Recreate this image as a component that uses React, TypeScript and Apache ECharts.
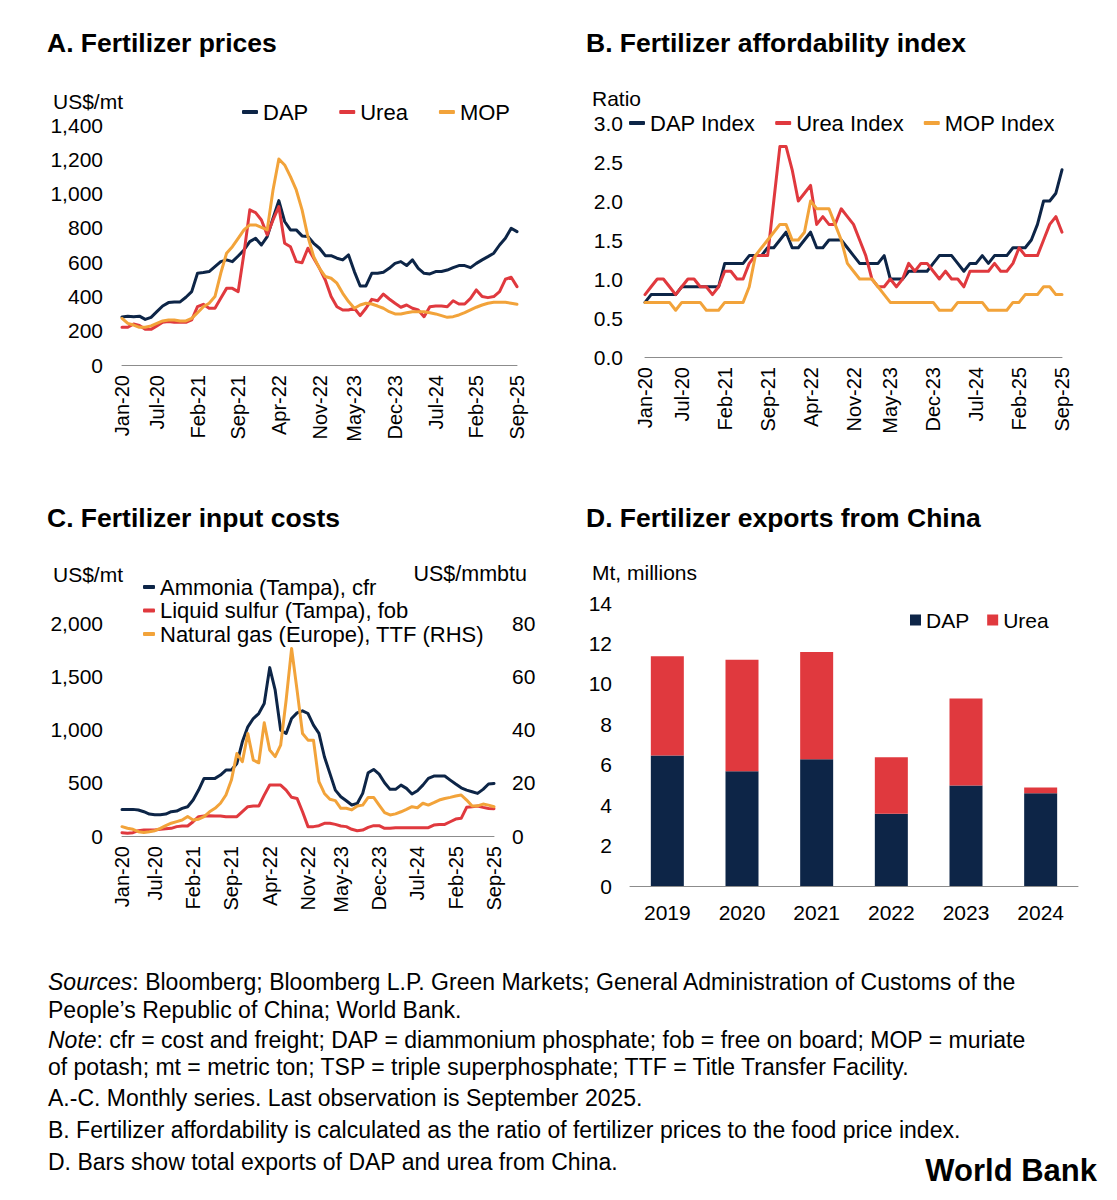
import React, { useEffect, useRef } from 'react';
import * as echarts from 'echarts';

const FONT = '"Liberation Sans", Arial, Helvetica, sans-serif';
const NAVY = '#0d2547';
const RED = '#e0393e';
const ORANGE = '#f2a33a';
const AXIS_GRAY = '#8c8c8c';

const monthNames = ['Jan', 'Feb', 'Mar', 'Apr', 'May', 'Jun', 'Jul', 'Aug', 'Sep', 'Oct', 'Nov', 'Dec'];
const months: string[] = [];
for (let y = 20; y <= 25; y++) {
  for (let m = 0; m < 12; m++) {
    if (y === 25 && m > 8) break;
    months.push(`${monthNames[m]}-${y}`);
  }
}
const labelIdx = [0, 6, 13, 20, 27, 34, 40, 47, 54, 61, 68];

// Panel A: Fertilizer prices (US$/mt)
const dapPrice = [
  280, 285, 282, 285, 266, 278, 311, 344, 364, 368,
  368, 395, 428, 535, 539, 545, 574, 603, 613, 603,
  636, 671, 720, 739, 700, 749, 856, 959, 837, 788,
  788, 753, 749, 710, 681, 638, 638, 623, 613, 642,
  545, 461, 461, 535, 535, 541, 564, 593, 603, 580,
  613, 564, 535, 531, 545, 545, 554, 568, 580, 580,
  568, 593, 613, 632, 652, 700, 739, 798, 778,
];
const ureaPrice = [
  220, 220, 239, 231, 208, 208, 228, 249, 253, 249,
  249, 249, 263, 340, 354, 331, 331, 389, 447, 447,
  428, 652, 905, 889, 846, 759, 846, 924, 710, 690,
  603, 597, 681, 623, 564, 496, 399, 340, 321, 321,
  331, 288, 331, 383, 375, 414, 385, 360, 337, 350,
  331, 321, 282, 340, 344, 344, 340, 375, 356, 356,
  389, 438, 399, 393, 399, 428, 500, 512, 457,
];
const mopPrice = [
  272, 243, 233, 220, 220, 228, 243, 257, 263, 263,
  257, 257, 272, 305, 340, 360, 399, 535, 652, 690,
  739, 788, 817, 817, 803, 788, 1021, 1202, 1167, 1099,
  1021, 905, 749, 632, 564, 516, 506, 477, 418, 370,
  331, 350, 360, 356, 344, 331, 311, 298, 298, 305,
  311, 311, 311, 305, 298, 288, 278, 282, 292, 305,
  321, 337, 350, 360, 366, 366, 366, 360, 354,
];

// Panel B: Fertilizer affordability index (ratio)
const dapIndex = [
  0.7, 0.8, 0.8, 0.8, 0.8, 0.8, 0.9, 0.9, 0.9, 0.9,
  0.9, 0.9, 0.9, 1.2, 1.2, 1.2, 1.2, 1.3, 1.3, 1.3,
  1.4, 1.4, 1.5, 1.6, 1.4, 1.4, 1.5, 1.6, 1.4, 1.4,
  1.5, 1.5, 1.5, 1.4, 1.3, 1.2, 1.2, 1.2, 1.2, 1.3,
  1.0, 1.0, 1.0, 1.1, 1.1, 1.1, 1.1, 1.2, 1.3, 1.3,
  1.3, 1.2, 1.1, 1.2, 1.2, 1.3, 1.2, 1.3, 1.3, 1.3,
  1.4, 1.4, 1.4, 1.5, 1.7, 2.0, 2.0, 2.1, 2.4,
];
const ureaIndex = [
  0.8, 0.9, 1.0, 1.0, 0.9, 0.8, 0.9, 1.0, 1.0, 0.9,
  0.9, 0.8, 0.9, 1.1, 1.1, 1.0, 1.0, 1.2, 1.3, 1.3,
  1.3, 2.0, 2.7, 2.7, 2.4, 2.0, 2.1, 2.2, 1.7, 1.8,
  1.7, 1.7, 1.9, 1.8, 1.7, 1.5, 1.3, 1.0, 0.9, 0.9,
  1.0, 0.9, 1.0, 1.2, 1.1, 1.2, 1.2, 1.1, 1.0, 1.1,
  1.0, 1.0, 0.9, 1.1, 1.1, 1.1, 1.1, 1.2, 1.1, 1.1,
  1.2, 1.4, 1.3, 1.3, 1.3, 1.5, 1.7, 1.8, 1.6,
];
const mopIndex = [
  0.7, 0.7, 0.7, 0.7, 0.7, 0.6, 0.7, 0.7, 0.7, 0.7,
  0.6, 0.6, 0.6, 0.7, 0.7, 0.7, 0.7, 0.9, 1.3, 1.4,
  1.5, 1.6, 1.7, 1.7, 1.5, 1.5, 1.6, 2.0, 1.9, 1.9,
  1.9, 1.7, 1.5, 1.2, 1.1, 1.0, 1.0, 1.0, 0.9, 0.8,
  0.7, 0.7, 0.7, 0.7, 0.7, 0.7, 0.7, 0.7, 0.6, 0.6,
  0.6, 0.7, 0.7, 0.7, 0.7, 0.7, 0.6, 0.6, 0.6, 0.6,
  0.7, 0.7, 0.8, 0.8, 0.8, 0.9, 0.9, 0.8, 0.8,
];

// Panel C: Fertilizer input costs
const ammonia = [
  250, 250, 250, 244, 228, 206, 200, 200, 206, 228,
  234, 259, 275, 338, 431, 541, 541, 541, 572, 619,
  619, 681, 884, 1025, 1103, 1150, 1244, 1581, 1369, 994,
  963, 1103, 1156, 1175, 1150, 1041, 963, 744, 588, 431,
  369, 331, 291, 306, 400, 594, 625, 581, 500, 438,
  438, 478, 447, 394, 425, 478, 541, 563, 563, 563,
  525, 488, 453, 431, 416, 400, 438, 488, 494,
];
const sulfur = [
  31, 25, 31, 50, 56, 56, 56, 63, 69, 72,
  88, 94, 94, 134, 181, 188, 191, 188, 188, 181,
  181, 181, 228, 275, 281, 281, 384, 478, 478, 478,
  431, 363, 353, 228, 88, 88, 97, 119, 119, 109,
  94, 88, 63, 50, 56, 81, 97, 97, 72, 72,
  78, 78, 78, 78, 78, 78, 78, 103, 109, 109,
  134, 159, 166, 269, 275, 281, 269, 259, 256,
];
const gasTTF = [
  3.5, 2.9, 2.5, 1.6, 1.3, 1.6, 2.0, 2.9, 3.9, 4.8,
  5.4, 6.0, 7.3, 6.0, 6.3, 7.3, 9.1, 10.4, 12.3, 15.4,
  21.0, 31.0, 27.9, 38.5, 28.5, 27.5, 42.5, 32.3, 29.8, 34.1,
  51.0, 70.4, 54.8, 38.5, 36.0, 36.0, 20.4, 16.0, 13.8, 13.3,
  10.4, 10.4, 9.8, 11.3, 11.6, 14.5, 14.5, 11.6, 8.8, 7.9,
  8.3, 9.1, 10.0, 11.0, 10.6, 12.3, 11.6, 12.5, 13.5, 14.1,
  14.5, 15.0, 15.4, 13.5, 11.3, 11.3, 12.0, 11.6, 11.0,
];

// Panel D: Fertilizer exports from China (Mt)
const exportYears = ['2019', '2020', '2021', '2022', '2023', '2024'];
const dapExports = [6.46, 5.68, 6.27, 3.57, 4.97, 4.59];
const ureaExports = [4.9, 5.51, 5.3, 2.8, 4.31, 0.28];

const xMonthAxis = (gridIndex: number) => ({
  type: 'category',
  gridIndex,
  data: months,
  boundaryGap: false,
  axisLine: { lineStyle: { color: AXIS_GRAY, width: 1 } },
  axisTick: { show: false },
  axisLabel: {
    rotate: 90,
    interval: (i: number) => labelIdx.includes(i),
    fontSize: 20,
    fontFamily: FONT,
    color: '#000',
    margin: 10,
  },
});

const yVal = (gridIndex: number, min: number, max: number, interval: number, fmt: (v: number) => string, margin: number, position = 'left') => ({
  type: 'value',
  gridIndex,
  min,
  max,
  interval,
  position,
  splitLine: { show: false },
  axisLine: { show: false },
  axisTick: { show: false },
  axisLabel: { fontSize: 21, fontFamily: FONT, color: '#000', margin, formatter: fmt },
});

const lineSeries = (name: string, data: number[], color: string, xi: number, yi: number) => ({
  type: 'line',
  name,
  data,
  xAxisIndex: xi,
  yAxisIndex: yi,
  showSymbol: false,
  symbol: 'none',
  color,
  lineStyle: { color, width: 3, cap: 'round', join: 'round' },
});

const txt = (x: number, y: number, text: string, size = 21, weight = 'normal', align = 'left', rich?: any) => ({
  type: 'text',
  x,
  y,
  style: {
    text,
    fontSize: size,
    fontWeight: weight,
    fontFamily: FONT,
    fill: '#000',
    align,
    verticalAlign: 'middle',
    rich,
  },
});

const legendBase = (size: number) => ({
  padding: 0,
  textStyle: { fontSize: size, fontFamily: FONT, color: '#000', lineHeight: size },
  selectedMode: false,
});

export default function App() {
  const ref = useRef<HTMLDivElement>(null);
  useEffect(() => {
    if (!ref.current) return;
    const chart = echarts.init(ref.current, undefined, { renderer: 'svg' });
    const fmtComma = (v: number) => v.toLocaleString('en-US');
    const italicRich = { i: { fontStyle: 'italic', fontSize: 23, fontFamily: FONT, fill: '#000' } };
    chart.setOption({
      animation: false,
      backgroundColor: '#fff',
      textStyle: { fontFamily: FONT },
      grid: [
        { left: 122, top: 125, width: 395, height: 240 },
        { left: 645, top: 123, width: 417, height: 234 },
        { left: 122, top: 623, width: 372, height: 213 },
        { left: 630, top: 603, width: 448, height: 283 },
      ],
      xAxis: [
        xMonthAxis(0),
        xMonthAxis(1),
        xMonthAxis(2),
        {
          type: 'category',
          gridIndex: 3,
          data: exportYears,
          axisLine: { lineStyle: { color: AXIS_GRAY, width: 1 } },
          axisTick: { show: false },
          axisLabel: { fontSize: 21, fontFamily: FONT, color: '#000', margin: 16 },
        },
      ],
      yAxis: [
        yVal(0, 0, 1400, 200, fmtComma, 19),
        yVal(1, 0, 3, 0.5, (v: number) => v.toFixed(1), 22),
        yVal(2, 0, 2000, 500, fmtComma, 19),
        yVal(2, 0, 80, 20, (v: number) => String(v), 18, 'right'),
        yVal(3, 0, 14, 2, (v: number) => String(v), 18),
      ],
      legend: [
        {
          ...legendBase(22),
          data: ['DAP', 'Urea', 'MOP'],
          left: 242,
          top: 101,
          icon: 'roundRect',
          itemWidth: 16,
          itemHeight: 4,
          itemGap: 31,
        },
        {
          ...legendBase(22),
          data: ['DAP Index', 'Urea Index', 'MOP Index'],
          left: 629,
          top: 112,
          icon: 'roundRect',
          itemWidth: 16,
          itemHeight: 4,
          itemGap: 20,
        },
        {
          ...legendBase(22),
          data: ['Ammonia (Tampa), cfr', 'Liquid sulfur (Tampa), fob', 'Natural gas (Europe), TTF (RHS)'],
          left: 143,
          top: 576,
          orient: 'vertical',
          icon: 'roundRect',
          itemWidth: 12,
          itemHeight: 4,
          itemGap: 1.5,
        },
        {
          ...legendBase(21),
          data: ['DAP exports', 'Urea exports'],
          formatter: (n: string) => n.replace(' exports', ''),
          left: 910,
          top: 609.5,
          icon: 'rect',
          itemWidth: 11,
          itemHeight: 11,
          itemGap: 18,
        },
      ],
      series: [
        lineSeries('DAP', dapPrice, NAVY, 0, 0),
        lineSeries('Urea', ureaPrice, RED, 0, 0),
        lineSeries('MOP', mopPrice, ORANGE, 0, 0),
        lineSeries('DAP Index', dapIndex, NAVY, 1, 1),
        lineSeries('Urea Index', ureaIndex, RED, 1, 1),
        lineSeries('MOP Index', mopIndex, ORANGE, 1, 1),
        lineSeries('Ammonia (Tampa), cfr', ammonia, NAVY, 2, 2),
        lineSeries('Liquid sulfur (Tampa), fob', sulfur, RED, 2, 2),
        lineSeries('Natural gas (Europe), TTF (RHS)', gasTTF, ORANGE, 2, 3),
        {
          type: 'bar',
          name: 'DAP exports',
          data: dapExports,
          xAxisIndex: 3,
          yAxisIndex: 4,
          stack: 'exports',
          barWidth: 33,
          color: NAVY,
          itemStyle: { color: NAVY },
        },
        {
          type: 'bar',
          name: 'Urea exports',
          data: ureaExports,
          xAxisIndex: 3,
          yAxisIndex: 4,
          stack: 'exports',
          barWidth: 33,
          color: RED,
          itemStyle: { color: RED },
        },
      ],
      graphic: [
        txt(47, 43, 'A. Fertilizer prices', 26.5, 'bold'),
        txt(586, 43, 'B. Fertilizer affordability index', 26.5, 'bold'),
        txt(47, 518, 'C. Fertilizer input costs', 26.5, 'bold'),
        txt(586, 518, 'D. Fertilizer exports from China', 26.5, 'bold'),
        txt(53, 101, 'US$/mt'),
        txt(592, 98, 'Ratio'),
        txt(53, 574, 'US$/mt'),
        txt(527, 574, 'US$/mmbtu', 21.5, 'normal', 'right'),
        txt(592, 572, 'Mt, millions'),
        txt(48, 982, '{i|Sources}: Bloomberg; Bloomberg L.P. Green Markets; General Administration of Customs of the', 23, 'normal', 'left', italicRich),
        txt(48, 1010, 'People\u2019s Republic of China; World Bank.', 23),
        txt(48, 1040, '{i|Note}: cfr = cost and freight; DAP = diammonium phosphate; fob = free on board; MOP = muriate', 23, 'normal', 'left', italicRich),
        txt(48, 1067, 'of potash; mt = metric ton; TSP = triple superphosphate; TTF = Title Transfer Facility.', 23),
        txt(48, 1098, 'A.-C. Monthly series. Last observation is September 2025.', 23),
        txt(48, 1130, 'B. Fertilizer affordability is calculated as the ratio of fertilizer prices to the food price index.', 23),
        txt(48, 1162, 'D. Bars show total exports of DAP and urea from China.', 23),
        txt(1097, 1170, 'World Bank', 31, 'bold', 'right'),
      ],
    });
    return () => chart.dispose();
  }, []);
  return (
    <div
      ref={ref}
      style={{ position: 'absolute', left: 0, top: 0, width: 1117, height: 1200, background: '#fff' }}
    />
  );
}
